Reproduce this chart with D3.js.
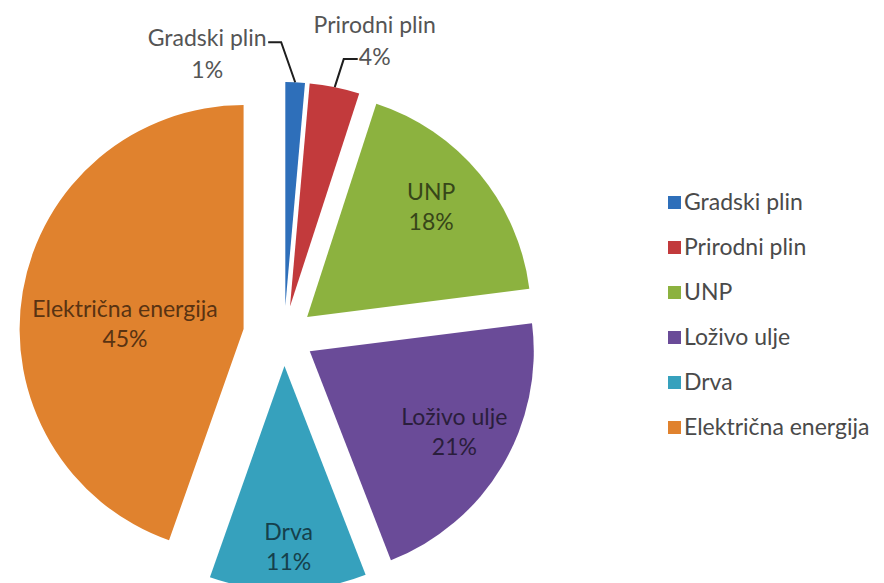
<!DOCTYPE html>
<html>
<head>
<meta charset="utf-8">
<script src="https://cdn.jsdelivr.net/npm/d3@7"></script>
<style>
  html, body { margin: 0; padding: 0; background: #fff; }
  svg { display: block; }
  text { font-family: Lato, "Open Sans", sans-serif; }
</style>
</head>
<body>
<svg id="chart" width="884" height="583"></svg>
<script>
// ---- data ----
const categories = ["Gradski plin", "Prirodni plin", "UNP", "Loživo ulje", "Drva", "Električna energija"];
const values = [1.4, 3.6, 18.0, 21.1, 11.3, 44.6];

// ---- style ----
const colors = ["#2e6fba", "#c23a3c", "#8cb23f", "#6a4b98", "#36a1bd", "#e0822e"];
const cx = 284, cy = 336, R = 224;
const explode = [30, 30, 30, 30, 30, 41];
// label position inside slice: radius fraction and position along the slice's angle (0..1)
const labelFrac = [null, null, 0.74, 0.739, 0.81, 0.53];
const labelAng = [null, null, 0.47, 0.478, 0.49, 0.454];
const fontSize = 23, lineGap = 30;
// outside labels: offset of label centre from arc mid point, and elbow offset
const outside = {
  0: { lab: [-88, -28], elbow: [-14, -40], endX: -13 },
  1: { lab: [40, -46], elbow: [9, -28], endX: 14 }
};

const svg = d3.select("#chart");
const data = categories.map((c, i) => ({ name: c, value: values[i], color: colors[i], i }));

const pie = d3.pie().sort(null).value(d => d.value);
const arcs = pie(data);
const arc = d3.arc().innerRadius(0).outerRadius(R);

const g = svg.append("g");

arcs.forEach((a, i) => {
  const mid = (a.startAngle + a.endAngle) / 2;
  const ox = cx + explode[i] * Math.sin(mid);
  const oy = cy - explode[i] * Math.cos(mid);
  const sg = g.append("g").attr("transform", `translate(${ox},${oy})`);
  sg.append("path").attr("d", arc(a)).attr("fill", a.data.color);
  const pct = Math.round(a.data.value) + "%";
  if (labelFrac[i] !== null) {
    const r = R * labelFrac[i];
    const ang = a.startAngle + (a.endAngle - a.startAngle) * labelAng[i];
    const lx = r * Math.sin(ang), ly = -r * Math.cos(ang);
    const tc = d3.color(a.data.color).darker(2.6).formatHex();
    const t = sg.append("text").attr("text-anchor", "middle")
      .attr("font-size", fontSize).attr("fill", tc);
    t.append("tspan").attr("x", lx).attr("y", ly - lineGap / 2).attr("dy", "0.35em").text(a.data.name);
    t.append("tspan").attr("x", lx).attr("y", ly + lineGap / 2).attr("dy", "0.35em").text(pct);
  } else {
    const o = outside[i];
    const px = R * Math.sin(mid), py = -R * Math.cos(mid);
    const ex = px + o.elbow[0], ey = py + o.elbow[1];
    sg.append("path")
      .attr("d", d3.line()([[px, py], [ex, ey], [ex + o.endX, ey]]))
      .attr("fill", "none").attr("stroke", "#1e1e1e").attr("stroke-width", 2);
    const lx = px + o.lab[0], ly = py + o.lab[1];
    const t = sg.append("text").attr("text-anchor", "middle")
      .attr("font-size", fontSize).attr("fill", "#555");
    t.append("tspan").attr("x", lx).attr("y", ly - 16).attr("dy", "0.35em").text(a.data.name);
    t.append("tspan").attr("x", lx).attr("y", ly + 16).attr("dy", "0.35em").text(pct);
  }
});

// ---- legend ----
const legendY = d3.scalePoint().domain(categories).range([202, 427]);
const lg = svg.append("g");
data.forEach(d => {
  const y = legendY(d.name);
  lg.append("rect").attr("x", 668).attr("y", y - 6).attr("width", 13).attr("height", 13).attr("fill", d.color);
  lg.append("text").attr("x", 684).attr("y", y).attr("dy", "0.35em")
    .attr("font-size", fontSize).attr("fill", "#4a4a4a").text(d.name);
});
</script>
</body>
</html>
